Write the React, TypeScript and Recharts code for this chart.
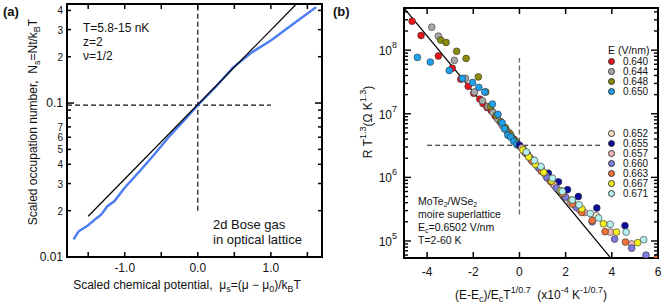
import React from 'react';
import { ComposedChart, Line, Scatter, XAxis, YAxis, ReferenceLine, ReferenceArea, Legend } from 'recharts';

const FONT = "'Liberation Sans', Arial, sans-serif";

// ---- panel (a): 2d Bose gas ----
const muBlue = [-1.7, -1.63, -1.5, -1.39, -1.32, -1.24, -1.14, -1.0, -0.79, -0.59, -0.4, -0.2, 0, 0.25, 0.48, 0.75, 1.0, 1.3, 1.62];
const nsBlue = [0.013, 0.0147, 0.0161, 0.0178, 0.0189, 0.0213, 0.0231, 0.0282, 0.0363, 0.0467, 0.06, 0.076, 0.097, 0.128, 0.17, 0.215, 0.255, 0.325, 0.42];
const muFit = [-1.5, 1.34];
const nsFit = [0.0184, 0.435];
const muTicks = [-1.5, -1.0, -0.5, 0, 0.5, 1.0, 1.5];
const muTickLabels = ['', '-1.0', '', '0.0', '', '1.0', ''];
const nsTicks = [0.01, 0.02, 0.03, 0.04, 0.05, 0.06, 0.07, 0.08, 0.09, 0.1, 0.2, 0.3, 0.4];
const nsTickLabels = ['0.01', '2', '3', '4', '5', '6', '7', '', '', '0.1', '2', '3', '4'];

// ---- panel (b): MoTe2/WSe2 scaling ----
const e640: [number, number][] = [[-4.65, 2.85e8], [-4.26, 1.7e8], [-3.51, 8.1e7], [-2.91, 5.2e7], [-2.54, 3.5e7], [-2.22, 2.7e7], [-1.98, 2.1e7], [-1.72, 1.7e7], [-1.58, 1.45e7], [-1.4, 1.25e7], [-1.22, 1.12e7], [-1.05, 9.2e6], [-0.85, 7.6e6], [-0.65, 6.1e6], [-0.45, 5.0e6], [-0.25, 4.0e6], [-0.1, 3.4e6]];
const e644: [number, number][] = [[-3.8, 2.3e8], [-3.51, 1.66e8], [-2.82, 6.9e7], [-2.34, 3.6e7], [-1.95, 2.2e7], [-1.6, 1.6e7], [-1.36, 1.3e7], [-1.15, 1.05e7], [-0.95, 8.3e6], [-0.75, 6.6e6], [-0.55, 5.4e6], [-0.35, 4.4e6], [-0.15, 3.6e6]];
const e648: [number, number][] = [[-3.41, 1.44e8], [-3.18, 1.32e8], [-2.72, 9.6e7], [-2.31, 7.4e7], [-1.78, 3.8e7], [-1.46, 2.2e7], [-1.25, 1.3e7], [-1.0, 9.4e6], [-0.8, 7.4e6], [-0.6, 6.0e6], [-0.4, 4.8e6], [-0.2, 3.8e6], [-0.05, 3.2e6]];
const e650: [number, number][] = [[-4.42, 7.7e7], [-3.86, 6.5e7], [-3.04, 4.8e7], [-2.47, 3.6e7], [-2.03, 3.1e7], [-1.76, 2.6e7], [-1.5, 2.2e7], [-1.17, 1.42e7], [-0.93, 9.8e6], [-0.75, 7.2e6], [-0.65, 5.8e6], [-0.5, 4.6e6], [-0.38, 4.3e6], [-0.25, 3.7e6], [-0.12, 3.3e6]];
const e652: [number, number][] = [[0.05, 3.0e6], [0.3, 2.35e6], [0.6, 1.75e6], [0.9, 1.35e6], [1.2, 1.0e6], [1.55, 7.4e5], [1.9, 5.6e5], [2.3, 4.2e5], [2.75, 2.9e5], [3.33, 2.5e5]];
const e655: [number, number][] = [[0.0, 3.2e6], [0.15, 2.8e6], [0.35, 2.3e6], [0.6, 1.85e6], [0.93, 1.41e6], [1.25, 1.16e6], [1.69, 8.5e5], [2.08, 6.4e5], [2.55, 5.0e5], [3.35, 3.3e5], [4.57, 1.74e5]];
const e657: [number, number][] = [[0.1, 2.9e6], [0.45, 2.05e6], [0.8, 1.45e6], [1.15, 1.05e6], [1.5, 7.6e5], [1.85, 5.5e5], [2.2, 4.1e5], [2.6, 3.1e5], [2.82, 2.8e5], [3.94, 1.38e5], [4.86, 9.0e4]];
const e660: [number, number][] = [[0.2, 2.6e6], [0.5, 1.9e6], [0.85, 1.4e6], [1.2, 9.8e5], [1.6, 6.8e5], [2.0, 4.9e5], [2.45, 3.4e5], [3.15, 2.0e5], [4.12, 1.07e5], [4.86, 7.7e4], [5.48, 6.0e4]];
const e663: [number, number][] = [[0.25, 2.45e6], [0.55, 1.8e6], [0.95, 1.25e6], [1.35, 8.6e5], [1.86, 5.6e5], [2.3, 3.8e5], [2.7, 2.8e5], [3.15, 2.1e5], [3.71, 1.4e5], [4.59, 9.6e4], [5.98, 5.6e4]];
const e667: [number, number][] = [[0.15, 2.7e6], [0.4, 2.1e6], [0.7, 1.6e6], [1.05, 1.2e6], [1.4, 8.8e5], [1.8, 6.2e5], [2.25, 4.4e5], [2.7, 3.2e5], [3.64, 1.86e5], [4.2, 1.38e5], [5.12, 9.4e4]];
const e671: [number, number][] = [[0.3, 2.5e6], [0.65, 1.85e6], [0.93, 1.48e6], [1.43, 9.7e5], [1.86, 6.0e5], [2.29, 4.4e5], [2.58, 3.7e5], [3.07, 2.7e5], [3.43, 2.3e5], [3.93, 1.83e5], [4.62, 1.38e5], [5.38, 1.05e5]];
const eLabels = ['0.640', '0.644', '0.648', '0.650', '0.652', '0.655', '0.657', '0.660', '0.663', '0.667', '0.671'];
const eColors = ['#e8141c', '#a9a9a9', '#8c8a0a', '#1ea0ec', '#fbe3c4', '#0a0a9c', '#f5b5b8', '#7c7cde', '#f2723a', '#f4f01c', '#b4f0f0'];
const eData = [e640, e644, e648, e650, e652, e655, e657, e660, e663, e667, e671];
const xbFit = [-5, 3.95];
const ybFit = [4.6e8, 5.4e4];
const xbTicks = [-4, -2, 0, 2, 4, 6];
const ybTicks = [6e4, 7e4, 8e4, 9e4, 1e5, 2e5, 3e5, 4e5, 5e5, 6e5, 7e5, 8e5, 9e5, 1e6, 2e6, 3e6, 4e6, 5e6, 6e6, 7e6, 8e6, 9e6, 1e7, 2e7, 3e7, 4e7, 5e7, 6e7, 7e7, 8e7, 9e7, 1e8, 2e8, 3e8, 4e8];

const toXY = (xs: number[], ys: number[]) => xs.map((x, i) => ({ x, y: ys[i] }));

// plot-area edges inside each chart's svg
const A = { l: 67, r: 322, t: 4, b: 257 };
const B = { l: 74, r: 328, t: 8, b: 258 };

const AXTick = (p: any) => {
  const i = muTicks.indexOf(p.payload.value);
  return (
    <g>
      <line x1={p.x} x2={p.x} y1={A.b} y2={A.b - 5} stroke="#000" strokeWidth={1.5} />
      <line x1={p.x} x2={p.x} y1={A.t} y2={A.t + 5} stroke="#000" strokeWidth={1.5} />
      {muTickLabels[i] && (
        <text x={p.x} y={A.b + 15} textAnchor="middle" fontSize={12} fill="#111">{muTickLabels[i]}</text>
      )}
    </g>
  );
};

const AYTick = (p: any) => {
  const i = nsTicks.indexOf(p.payload.value);
  const major = i === 0 || i === 9;
  const len = major ? 7 : 4;
  return (
    <g>
      <line x1={A.l} x2={A.l + len} y1={p.y} y2={p.y} stroke="#000" strokeWidth={1.5} />
      <line x1={A.r} x2={A.r - len} y1={p.y} y2={p.y} stroke="#000" strokeWidth={1.5} />
      {nsTickLabels[i] && (
        <text x={A.l - 4} y={p.y + 4} textAnchor="end" fontSize={major ? 12 : 10} fill="#111">{nsTickLabels[i]}</text>
      )}
    </g>
  );
};

const BXTick = (p: any) => (
  <g>
    <line x1={p.x} x2={p.x} y1={B.b} y2={B.b - 6} stroke="#000" strokeWidth={1.5} />
    <line x1={p.x} x2={p.x} y1={B.t} y2={B.t + 6} stroke="#000" strokeWidth={1.5} />
    <text x={p.x} y={B.b + 18} textAnchor="middle" fontSize={12} fill="#111">{p.payload.value}</text>
  </g>
);

const BYTick = (p: any) => {
  const v = p.payload.value;
  const lg = Math.log10(v);
  const exp = Math.round(lg);
  const major = Math.abs(lg - exp) < 1e-6;
  const len = major ? 7 : 4;
  return (
    <g>
      <line x1={B.l} x2={B.l + len} y1={p.y} y2={p.y} stroke="#000" strokeWidth={1.4} />
      <line x1={B.r} x2={B.r - len} y1={p.y} y2={p.y} stroke="#000" strokeWidth={1.4} />
      {major && (
        <text x={B.l - 7} y={p.y + 5} textAnchor="end" fontSize={12} fill="#111">
          <tspan>10</tspan>
          <tspan dy={-7} fontSize={9}>{exp}</tspan>
        </text>
      )}
    </g>
  );
};

const Dot = (color: string) => (p: any) => (
  <circle cx={p.cx} cy={p.cy} r={3.4} fill={color} stroke="#333" strokeWidth={0.6} />
);

const LegendRow = ({ i }: { i: number }) => (
  <div style={{ height: 10, display: 'flex', alignItems: 'center', whiteSpace: 'nowrap' }}>
    <span style={{ width: 7, height: 7, borderRadius: '50%', background: eColors[i], border: '0.6px solid #333', boxSizing: 'border-box', display: 'inline-block' }} />
    <span style={{ marginLeft: 8, display: 'inline-block', height: 9, lineHeight: '9px', fontSize: 10 }}>{eLabels[i]}</span>
  </div>
);

const LegendBox = () => (
  <div style={{ fontFamily: FONT, fontSize: 10.5, lineHeight: '10px', color: '#111' }}>
    <div style={{ height: 11, lineHeight: '10px', whiteSpace: 'nowrap' }}>E (V/nm)</div>
    {[0, 1, 2, 3].map((i) => <LegendRow key={i} i={i} />)}
    <div style={{ height: 32 }} />
    {[4, 5, 6, 7, 8, 9, 10].map((i) => <LegendRow key={i} i={i} />)}
  </div>
);

const pre = { whiteSpace: 'pre' as const };

export default function App() {
  const blue = toXY(muBlue, nsBlue);
  const fitA = toXY(muFit, nsFit);
  const fitB = toXY(xbFit, ybFit);
  return (
    <div style={{ position: 'absolute', left: 0, top: 0, width: 664, height: 307, background: '#fff', fontFamily: FONT }}>
      <div style={{ position: 'absolute', left: 0, top: 0 }}>
        <ComposedChart width={330} height={307} margin={{ top: 4, right: 8, bottom: 0, left: 0 }}>
          <XAxis dataKey="x" type="number" domain={[-1.79, 1.7]} allowDataOverflow ticks={muTicks} interval={0}
            axisLine={false} tickLine={false} tickSize={0} tickMargin={0} height={50} tick={AXTick} />
          <YAxis dataKey="y" type="number" scale="log" domain={[0.01, 0.44]} allowDataOverflow ticks={nsTicks} interval={0}
            axisLine={false} tickLine={false} tickSize={0} tickMargin={0} width={67} tick={AYTick} />
          <ReferenceLine segment={[{ x: -1.79, y: 0.097 }, { x: 1.0, y: 0.097 }]} stroke="#111" strokeWidth={1.2} strokeDasharray="5 3" />
          <ReferenceLine segment={[{ x: 0, y: 0.02 }, { x: 0, y: 0.44 }]} stroke="#111" strokeWidth={1.2} strokeDasharray="5 3" />
          <Line data={blue} dataKey="y" type="linear" stroke="#4b7cf3" strokeWidth={2.4} dot={false} isAnimationActive={false} />
          <Line data={fitA} dataKey="y" type="linear" stroke="#000" strokeWidth={1.2} dot={false} isAnimationActive={false} />
          <ReferenceArea x1={-1.79} x2={1.7} y1={0.01} y2={0.44} fill="none" stroke="#000" strokeWidth={2} />
        </ComposedChart>
      </div>
      <div style={{ position: 'absolute', left: 330, top: 0 }}>
        <ComposedChart width={334} height={307} margin={{ top: 8, right: 6, bottom: 0, left: 0 }}>
          <XAxis dataKey="x" type="number" domain={[-5, 6]} allowDataOverflow ticks={xbTicks} interval={0}
            axisLine={false} tickLine={false} tickSize={0} tickMargin={0} height={49} tick={BXTick} />
          <YAxis dataKey="y" type="number" scale="log" domain={[5.4e4, 4.6e8]} allowDataOverflow ticks={ybTicks} interval={0}
            axisLine={false} tickLine={false} tickSize={0} tickMargin={0} width={74} tick={BYTick} />
          <ReferenceLine segment={[{ x: -4, y: 3.2e6 }, { x: 3.53, y: 3.2e6 }]} stroke="#111" strokeWidth={1.2} strokeDasharray="5 3" />
          <ReferenceLine segment={[{ x: 0, y: 2.6e5 }, { x: 0, y: 7.5e7 }]} stroke="#666" strokeWidth={1.3} strokeDasharray="5 3" />
          <Line data={fitB} dataKey="y" type="linear" stroke="#000" strokeWidth={1.2} dot={false} isAnimationActive={false} />
          {eData.map((d, i) => (
            <Scatter key={eLabels[i]} name={eLabels[i]} data={d.map(([x, y]) => ({ x, y }))} fill={eColors[i]}
              shape={Dot(eColors[i])} isAnimationActive={false} />
          ))}
          <ReferenceArea x1={-5} x2={6} y1={5.4e4} y2={4.6e8} fill="none" stroke="#000" strokeWidth={2} />
          <Legend layout="vertical" align="center" verticalAlign="middle" content={() => <LegendBox />}
            wrapperStyle={{ left: 278, top: 45, width: 60, height: 160 }} />
        </ComposedChart>
      </div>
      <svg width={664} height={307} style={{ position: 'absolute', left: 0, top: 0, pointerEvents: 'none' }} fontFamily={FONT} fill="#111">
        <text x={3} y={16} fontSize={13} fontWeight="bold">(a)</text>
        <text x={83} y={32} fontSize={12}>T=5.8-15 nK</text>
        <text x={83} y={46} fontSize={12}>z=2</text>
        <text x={83} y={60} fontSize={12}>ν=1/2</text>
        <text x={213} y={229} fontSize={13}>2d Bose gas</text>
        <text x={213} y={244} fontSize={13}>in optical lattice</text>
        <text x={187} y={289} fontSize={12} textAnchor="middle" style={pre}>
          <tspan>{'Scaled chemical potential,  μ'}</tspan><tspan dy={3} fontSize={9}>s</tspan>
          <tspan dy={-3}>{'=(μ − μ'}</tspan><tspan dy={3} fontSize={9}>0</tspan>
          <tspan dy={-3}>{')/k'}</tspan><tspan dy={3} fontSize={9}>B</tspan><tspan dy={-3}>T</tspan>
        </text>
        <text x={37} y={122} fontSize={12} textAnchor="middle" transform="rotate(-90 37 122)" style={pre}>
          <tspan>{'Scaled occupation number,  N'}</tspan><tspan dy={3} fontSize={9}>s</tspan>
          <tspan dy={-3}>{'=Nt/k'}</tspan><tspan dy={3} fontSize={9}>B</tspan><tspan dy={-3}>T</tspan>
        </text>

        <text x={333} y={16} fontSize={13} fontWeight="bold">(b)</text>
        <text x={372} y={122} fontSize={12} textAnchor="middle" transform="rotate(-90 372 122)" style={pre}>
          <tspan>{'R T'}</tspan><tspan dy={-6} fontSize={9}>1.3</tspan>
          <tspan dy={6}>{'(Ω K'}</tspan><tspan dy={-6} fontSize={9}>1.3</tspan><tspan dy={6}>)</tspan>
        </text>
        <text x={531} y={299} fontSize={12} textAnchor="middle" style={pre}>
          <tspan>{'(E-E'}</tspan><tspan dy={3} fontSize={9}>c</tspan><tspan dy={-3}>{')/E'}</tspan><tspan dy={3} fontSize={9}>c</tspan>
          <tspan dy={-3}>T</tspan><tspan dy={-6} fontSize={9}>1/0.7</tspan>
          <tspan dy={6}>{'  (x10'}</tspan><tspan dy={-6} fontSize={9}>-4</tspan>
          <tspan dy={6}>{' K'}</tspan><tspan dy={-6} fontSize={9}>-1/0.7</tspan><tspan dy={6}>)</tspan>
        </text>
        <text x={418} y={205} fontSize={10.5}>
          <tspan>MoTe</tspan><tspan dy={2} fontSize={7}>2</tspan><tspan dy={-2}>/WSe</tspan><tspan dy={2} fontSize={7}>2</tspan>
        </text>
        <text x={418} y={218} fontSize={10.5}>moire superlattice</text>
        <text x={418} y={231} fontSize={10.5}>
          <tspan>E</tspan><tspan dy={2} fontSize={7}>c</tspan><tspan dy={-2}>=0.6502 V/nm</tspan>
        </text>
        <text x={418} y={244} fontSize={10.5}>T=2-60 K</text>
      </svg>
    </div>
  );
}
